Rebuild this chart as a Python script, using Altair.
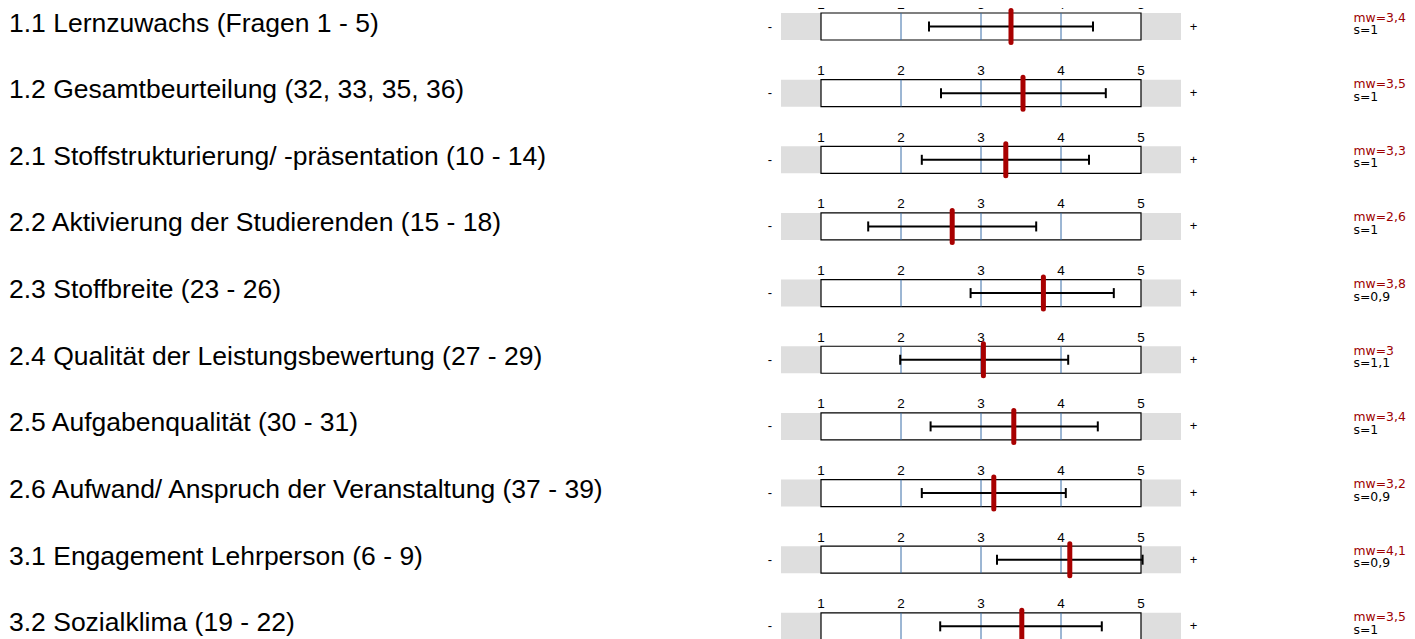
import altair as alt
import pandas as pd

labels = [
    "1.1 Lernzuwachs (Fragen 1 - 5)",
    "1.2 Gesamtbeurteilung (32, 33, 35, 36)",
    "2.1 Stoffstrukturierung/ -präsentation (10 - 14)",
    "2.2 Aktivierung der Studierenden (15 - 18)",
    "2.3 Stoffbreite (23 - 26)",
    "2.4 Qualität der Leistungsbewertung (27 - 29)",
    "2.5 Aufgabenqualität (30 - 31)",
    "2.6 Aufwand/ Anspruch der Veranstaltung (37 - 39)",
    "3.1 Engagement Lehrperson (6 - 9)",
    "3.2 Sozialklima (19 - 22)",
]
means = [3.375, 3.525, 3.31, 2.64, 3.78, 3.03, 3.41, 3.16, 4.11, 3.51]
lows = [2.35, 2.50, 2.26, 1.59, 2.87, 1.99, 2.37, 2.26, 3.20, 2.49]
highs = [4.40, 4.56, 4.35, 3.69, 4.66, 4.09, 4.46, 4.06, 5.02, 4.51]
mw_texts = ["mw=3,4", "mw=3,5", "mw=3,3", "mw=2,6", "mw=3,8", "mw=3", "mw=3,4", "mw=3,2", "mw=4,1", "mw=3,5"]
s_texts = ["s=1", "s=1", "s=1", "s=1", "s=0,9", "s=1,1", "s=1", "s=0,9", "s=0,9", "s=1"]
scale_ticks = [1, 2, 3, 4, 5]
grid_ticks = [2, 3, 4]
scale_min, scale_max = 1, 5
grey_min, grey_max = 0.5, 5.5

rows = list(range(len(labels)))
df = pd.DataFrame({
    "row": rows, "label": labels, "mean": means, "lo": lows, "hi": highs,
    "mw": mw_texts, "s": s_texts,
    "smin": [scale_min] * len(rows), "smax": [scale_max] * len(rows),
    "gmin": [grey_min] * len(rows), "gmax": [grey_max] * len(rows),
})
ticks_df = pd.DataFrame([{"row": r, "t": t} for r in rows for t in scale_ticks])
grid_df = pd.DataFrame([{"row": r, "t": t} for r in rows for t in grid_ticks])

W, H = 1399, 640
xs = alt.Scale(domain=[-9.1625, 8.325])
ys = alt.Scale(domain=[-0.2776, 9.3248], reverse=True)
X = lambda f: alt.X(f, type="quantitative", scale=xs, axis=None)
Y = lambda: alt.Y("row:Q", scale=ys, axis=None)
FONT = "Liberation Sans"
SMALL = "DejaVu Sans"

base = alt.Chart(df)

grey = base.mark_rect(color="#dedede", yOffset=-13.5, y2Offset=13.5).encode(
    x=X("gmin"), x2="gmax", y=Y(), y2="row")
box = base.mark_rect(fill="white", stroke="black", strokeWidth=1.2,
                     yOffset=-13.5, y2Offset=13.5).encode(
    x=X("smin"), x2="smax", y=Y(), y2="row")
grid = alt.Chart(grid_df).mark_rule(color="#3a6ea8", strokeWidth=1,
                                     yOffset=-13.5, y2Offset=13.5).encode(
    x=X("t"), y=Y(), y2="row")
tick_txt = alt.Chart(ticks_df).mark_text(font=FONT, fontSize=13.5, dy=-18,
                                          baseline="alphabetic", color="black").encode(
    x=X("t"), y=Y(), text="t:Q")
err = base.mark_rule(color="black", strokeWidth=2).encode(
    x=X("lo"), x2="hi", y=Y())
cap_lo = base.mark_rule(color="black", strokeWidth=2, yOffset=-5, y2Offset=5).encode(
    x=X("lo"), y=Y(), y2="row")
cap_hi = base.mark_rule(color="black", strokeWidth=2, yOffset=-5, y2Offset=5).encode(
    x=X("hi"), y=Y(), y2="row")
mean_m = base.mark_rule(color="#a80000", strokeWidth=5, strokeCap="round",
                        yOffset=-16, y2Offset=16).encode(
    x=X("mean"), y=Y(), y2="row")
minus = base.mark_text(font=FONT, fontSize=13, text="-", align="center",
                       baseline="middle").encode(x=alt.value(762), y=Y())
plus = base.mark_text(font=FONT, fontSize=13, text="+", align="center",
                      baseline="middle").encode(x=alt.value(1185.5), y=Y())
lab = base.mark_text(font=FONT, fontSize=26.5, align="left", baseline="middle",
                     dy=-3, color="black").encode(x=alt.value(1), y=Y(), text="label:N")
mw = base.mark_text(font=SMALL, fontSize=12.4, align="left", baseline="alphabetic",
                    dy=-5, color="#9c0000").encode(x=alt.value(1345.5), y=Y(), text="mw:N")
sd = base.mark_text(font=SMALL, fontSize=12.4, align="left", baseline="alphabetic",
                    dy=7.5, color="black").encode(x=alt.value(1345.5), y=Y(), text="s:N")

chart = alt.layer(grey, box, grid, tick_txt, err, cap_lo, cap_hi, mean_m,
                  minus, plus, lab, mw, sd).properties(
    width=W, height=H, padding=0, background="white",
    autosize=alt.AutoSizeParams(type="none")
).configure_view(stroke=None)

chart.save("out.html", embed_options={"renderer": "svg", "actions": False})
